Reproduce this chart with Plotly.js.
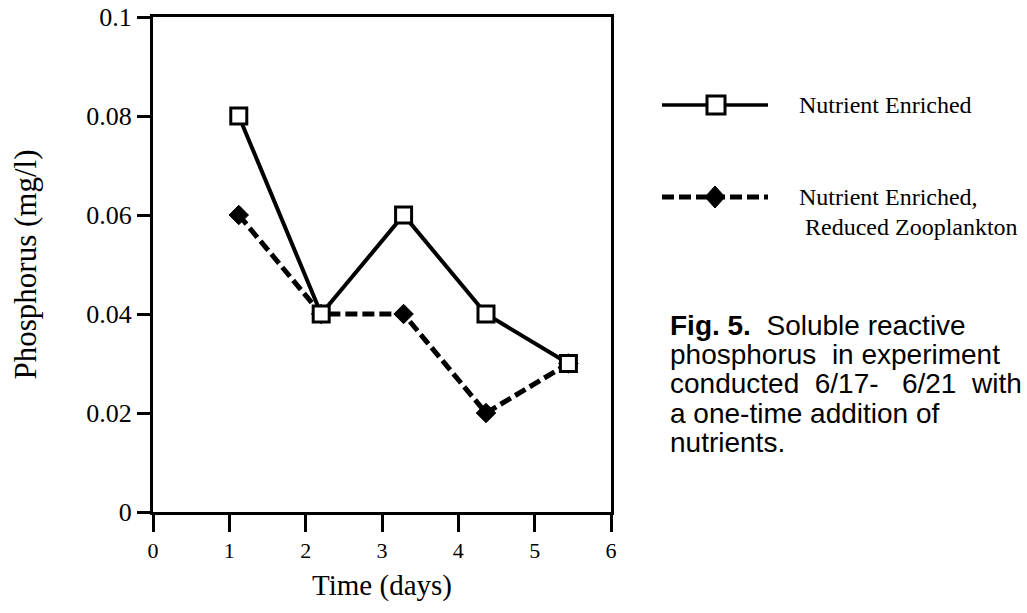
<!DOCTYPE html>
<html>
<head>
<meta charset="utf-8">
<script src="https://cdn.plot.ly/plotly-3.0.1.min.js"></script>
<style>html,body{margin:0;padding:0;background:#fff;}#chart{width:1027px;height:613px;}</style>
</head>
<body>
<div id="chart"></div>
<script>
// ---- data ----
const days = [1, 2, 3, 4, 5];
const nutrientEnriched = [0.08, 0.04, 0.06, 0.04, 0.03];
const reducedZooplankton = [0.06, 0.04, 0.04, 0.02, 0.03];
const seriesNames = ["Nutrient Enriched", "Nutrient Enriched,", " Reduced Zooplankton"];
const xTickVals = [0, 1, 2, 3, 4, 5, 6];
const yTickVals = [0, 0.02, 0.04, 0.06, 0.08, 0.1];
const captionLines = [
  "<b>Fig. 5.</b>\u00a0 Soluble reactive",
  "phosphorus\u00a0 in experiment",
  "conducted\u00a0 6/17-\u00a0\u00a0 6/21\u00a0 with",
  "a one-time addition of",
  "nutrients."
];

// ---- layout geometry (pixels) ----
const W = 1027, H = 613;
const PL = 153, PR = 611, PT = 17, PB = 512;
const px = v => (v - PL) / (PR - PL);
const py = v => (PB - v) / (PB - PT);

const serif = "Liberation Serif, Times New Roman, serif";
const sans = "Liberation Sans, Arial, sans-serif";

const traces = [
  // empty trace so the tick axis (x) is drawn
  {x: [], y: [], xaxis: "x", yaxis: "y", mode: "markers", showlegend: false, hoverinfo: "skip"},
  {
    x: days, y: reducedZooplankton, xaxis: "x2", yaxis: "y",
    mode: "lines+markers", name: seriesNames[1] + seriesNames[2],
    line: {color: "#000", width: 5, dash: "12px,5px"},
    marker: {symbol: "diamond", size: 15, color: "#000", line: {color: "#000", width: 1}},
    showlegend: false
  },
  {
    x: days, y: nutrientEnriched, xaxis: "x2", yaxis: "y",
    mode: "lines+markers", name: seriesNames[0],
    line: {color: "#000", width: 4},
    marker: {symbol: "square", size: 16, color: "#fff", line: {color: "#000", width: 3}},
    showlegend: false
  }
];

// legend glyphs (drawn as shapes)
const shapes = [
  {type: "line", xref: "paper", yref: "paper", x0: px(662), x1: px(768), y0: py(105), y1: py(105),
   line: {color: "#000", width: 3.5}},
  {type: "rect", xref: "paper", yref: "paper", x0: px(707), x1: px(725), y0: py(114), y1: py(96),
   fillcolor: "#fff", line: {color: "#000", width: 3}},
  {type: "line", xref: "paper", yref: "paper", x0: px(662), x1: px(768), y0: py(197), y1: py(197),
   line: {color: "#000", width: 5, dash: "12px,5px"}},
  {type: "path", xref: "paper", yref: "paper",
   path: `M ${px(705)} ${py(197)} L ${px(715)} ${py(186)} L ${px(725)} ${py(197)} L ${px(715)} ${py(208)} Z`,
   fillcolor: "#000", line: {color: "#000", width: 1}}
];

const annotations = [
  {xref: "paper", yref: "paper", x: px(797), y: py(105), xanchor: "left", yanchor: "middle",
   text: seriesNames[0], showarrow: false, font: {family: serif, size: 24, color: "#000"}},
  {xref: "paper", yref: "paper", x: px(797), y: py(197), xanchor: "left", yanchor: "middle",
   text: seriesNames[1], showarrow: false, font: {family: serif, size: 24, color: "#000"}},
  {xref: "paper", yref: "paper", x: px(797), y: py(227), xanchor: "left", yanchor: "middle",
   text: seriesNames[2].replace(" ", "\u00a0"), showarrow: false, font: {family: serif, size: 24, color: "#000"}}
];
const capY = [325, 354, 383, 413, 442];
captionLines.forEach((t, i) => {
  annotations.push({xref: "paper", yref: "paper", x: px(668), y: py(capY[i]), xanchor: "left", yanchor: "middle",
    text: t, showarrow: false, font: {family: sans, size: 28, color: "#000"}});
});

const layout = {
  width: W, height: H,
  margin: {l: PL, r: W - PR, t: PT, b: H - PB, pad: 0},
  paper_bgcolor: "#fff", plot_bgcolor: "#fff",
  showlegend: false,
  xaxis: {
    range: [0, 6], tickvals: xTickVals, ticks: "outside", ticklen: 17, tickwidth: 3, tickcolor: "#000",
    showline: true, linewidth: 3, linecolor: "#000", mirror: true, showgrid: false, zeroline: false,
    tickfont: {family: serif, size: 22, color: "#000"},
    title: {text: "Time (days)", font: {family: serif, size: 29, color: "#000"}, standoff: 13},
    fixedrange: true
  },
  xaxis2: {
    overlaying: "x", anchor: "y", range: [-0.041, 5.517], visible: false, fixedrange: true
  },
  yaxis: {
    range: [0, 0.1], tickvals: yTickVals, ticks: "outside", ticklen: 13, tickwidth: 3, tickcolor: "#000",
    showline: true, linewidth: 3, linecolor: "#000", mirror: true, showgrid: false, zeroline: false,
    tickfont: {family: serif, size: 26, color: "#000"},
    title: {text: "Phosphorus (mg/l)", font: {family: serif, size: 31, color: "#000"}, standoff: 41},
    fixedrange: true
  },
  shapes: shapes,
  annotations: annotations
};

Plotly.newPlot("chart", traces, layout, {displayModeBar: false, staticPlot: true});
</script>
</body>
</html>
